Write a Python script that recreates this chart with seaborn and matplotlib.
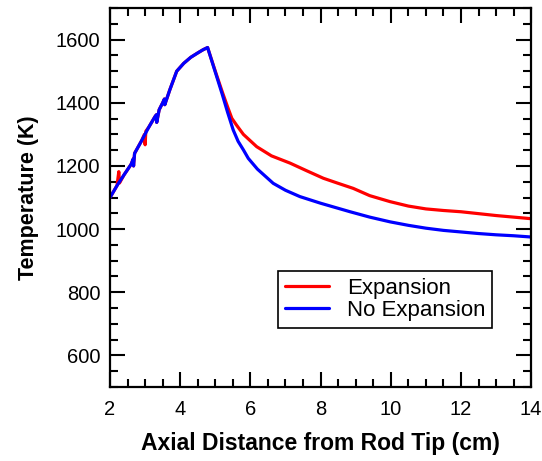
import matplotlib
matplotlib.use("Agg")
import matplotlib.pyplot as plt
import seaborn as sns
import pandas as pd
from matplotlib.ticker import MultipleLocator

# Data
x_no_exp = [2.0, 2.2, 2.4, 2.6, 2.66, 2.67, 2.7, 2.9, 3.1, 3.28, 3.32, 3.33, 3.4, 3.5, 3.55, 3.56,
            3.7, 3.9, 4.1, 4.3, 4.5, 4.65, 4.78,
            5.0, 5.2, 5.35, 5.51, 5.65, 5.8, 5.94, 6.2, 6.65, 7.0, 7.41, 8.0, 8.84, 9.4, 9.98,
            10.5, 11.0, 11.5, 12.0, 12.5, 13.0, 13.5, 14.0]
t_no_exp = [1100, 1138, 1172, 1205, 1222, 1200, 1240, 1280, 1322, 1356, 1362, 1338, 1378, 1400, 1412, 1394,
            1440, 1500, 1525, 1544, 1558, 1568, 1575,
            1497, 1426, 1370, 1314, 1278, 1251, 1224, 1190, 1145, 1123, 1103, 1082, 1055, 1038, 1023,
            1012, 1003, 996, 991, 986, 982, 979, 975]

x_exp = [2.0, 2.2, 2.25, 2.27, 2.29, 2.4, 2.6, 2.66, 2.67, 2.7, 2.9, 2.98, 3.0, 3.02, 3.1, 3.28, 3.32, 3.33,
         3.4, 3.5, 3.55, 3.56, 3.7, 3.9, 4.1, 4.3, 4.5, 4.65, 4.78,
         5.0, 5.2, 5.35, 5.47, 5.6, 5.8, 6.18, 6.6, 7.13, 7.6, 8.08, 8.5, 8.93, 9.4, 9.98,
         10.5, 11.0, 11.5, 12.0, 12.5, 13.0, 13.5, 14.0]
t_exp = [1100, 1138, 1182, 1146, 1150, 1172, 1205, 1222, 1200, 1240, 1280, 1300, 1267, 1310, 1322, 1356, 1362, 1338,
         1378, 1400, 1412, 1394, 1440, 1500, 1525, 1544, 1558, 1568, 1575,
         1500, 1434, 1387, 1351, 1330, 1300, 1261, 1232, 1209, 1185, 1161, 1145, 1129, 1106, 1087,
         1073, 1064, 1059, 1055, 1049, 1043, 1038, 1033]

labels = ["Expansion", "No Expansion"]
colors = ["#ff0000", "#0000ff"]

df = pd.concat([
    pd.DataFrame({"x": x_exp, "T": t_exp, "case": labels[0]}),
    pd.DataFrame({"x": x_no_exp, "T": t_no_exp, "case": labels[1]}),
])

sns.set_style("ticks")
plt.rcParams["font.family"] = ["Liberation Sans", "DejaVu Sans"]
plt.rcParams["text.color"] = "black"
plt.rcParams["axes.labelcolor"] = "black"

fig = plt.figure(figsize=(5.42, 4.61), dpi=100)
ax = fig.add_axes([0.203, 0.1605, 0.777, 0.822])

sns.lineplot(data=df, x="x", y="T", hue="case", hue_order=labels,
             palette=dict(zip(labels, colors)), sort=False, estimator=None,
             linewidth=2.3, ax=ax)

ax.set_xlim(2, 14)
ax.set_ylim(500, 1700)
ax.xaxis.set_major_locator(MultipleLocator(2))
ax.xaxis.set_minor_locator(MultipleLocator(0.5))
ax.yaxis.set_minor_locator(MultipleLocator(50))
ax.set_yticks([600, 800, 1000, 1200, 1400, 1600])

ax.tick_params(which="both", direction="in", top=True, right=True, width=1.5, colors="black",
               labelsize=14.5)
ax.tick_params(axis="y", pad=7)
ax.tick_params(axis="x", pad=9)
ax.tick_params(which="major", length=11)
ax.tick_params(which="minor", length=5.5)
for s in ax.spines.values():
    s.set_linewidth(1.6)
    s.set_color("black")

ax.set_xlabel("Axial Distance from Rod Tip (cm)", fontsize=16.5, fontweight="bold", labelpad=10)
ax.set_ylabel("Temperature (K)", fontsize=15.5, fontweight="bold", labelpad=12)

leg = ax.legend(loc="lower right", bbox_to_anchor=(0.907, 0.156), fontsize=16,
                frameon=True, fancybox=False, framealpha=1, edgecolor="black",
                handlelength=2.0, handletextpad=0.8, borderpad=0.3, labelspacing=0.05,
                borderaxespad=0)
leg.get_frame().set_linewidth(1.2)
for h in leg.get_lines():
    h.set_linewidth(2.3)

fig.savefig("out.png", dpi=100)
